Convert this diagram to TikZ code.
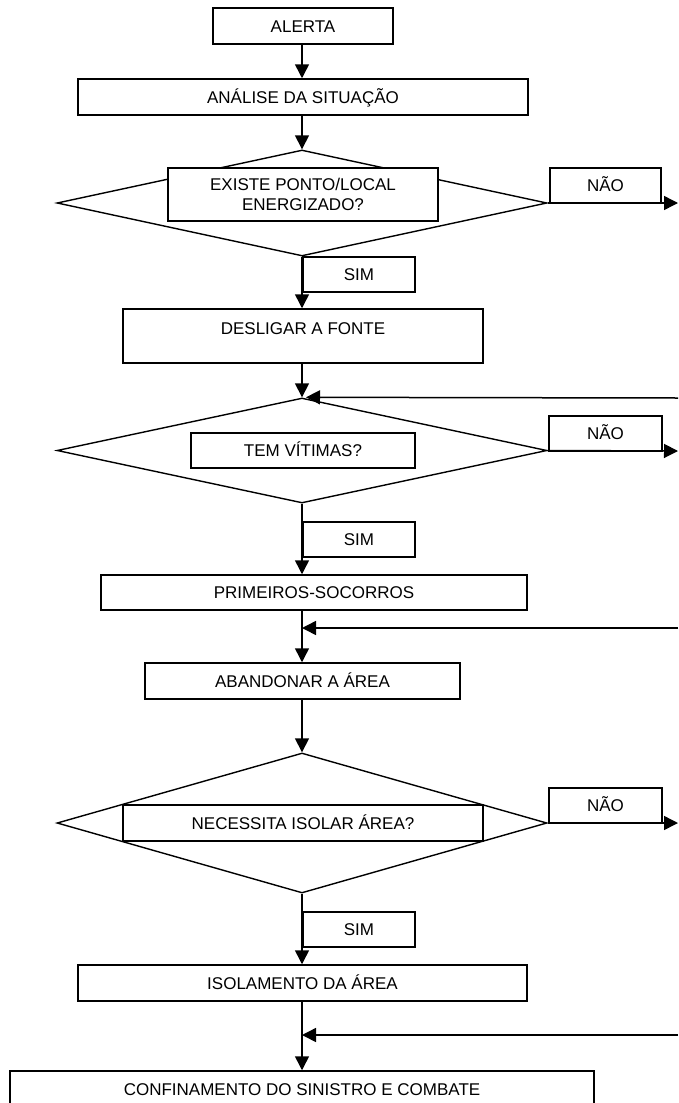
\documentclass[tikz,border=0pt]{standalone}
\usepackage{fontspec}
\setmainfont{Liberation Sans}
\usetikzlibrary{arrows.meta,shapes.geometric}
\begin{document}
\begin{tikzpicture}[x=1pt,y=-1pt,
  every node/.style={font=\fontsize{17}{20}\selectfont},
  frame/.style={draw, line width=1.5pt, rectangle, inner sep=0pt},
  box/.style={frame, text height=12.2pt, text depth=0pt},
  dia/.style={draw, line width=1.4pt, diamond, inner sep=0pt, minimum width=490pt},
  arr/.style={line width=1.5pt, -{Triangle[width=14pt,length=14pt]}}]
\useasboundingbox (0,0) rectangle (678,1103);
\clip (0,0) rectangle (678,1103);
% process boxes
\node[box, minimum width=180pt, minimum height=36pt] (alerta) at (303,26) {ALERTA};
\node[box, minimum width=450pt, minimum height=36pt] (analise) at (303,97) {ANÁLISE DA SITUAÇÃO};
\node[dia, minimum height=106pt] (d1) at (302,203) {};
\node[frame, fill=white, minimum width=270pt, minimum height=53pt, align=center] (d1txt) at (303,194.5) {EXISTE PONTO/LOCAL\\ENERGIZADO?};
\node[box, minimum width=111pt, minimum height=35pt] (nao1) at (605.5,185.5) {NÃO};
\node[box, minimum width=112pt, minimum height=35pt] (sim1) at (359,274.5) {SIM};
\node[box, minimum width=360pt, text height=25pt, text depth=29pt] (desl) at (303,336) {DESLIGAR A FONTE};
\node[dia, minimum height=105pt] (d2) at (302,450.5) {};
\node[box, fill=white, minimum width=224pt, minimum height=35pt] (d2txt) at (303,450.5) {TEM VÍTIMAS?};
\node[box, minimum width=113pt, minimum height=35pt] (nao2) at (605.5,433.5) {NÃO};
\node[box, minimum width=112pt, minimum height=35pt] (sim2) at (359,539.5) {SIM};
\node[box, minimum width=426pt, minimum height=35pt] (prim) at (314,592.5) {PRIMEIROS-SOCORROS};
\node[box, minimum width=315pt, minimum height=36pt] (aband) at (302.5,681) {ABANDONAR A ÁREA};
\node[dia, minimum height=140pt] (d3) at (302,823) {};
\node[box, fill=white, minimum width=360pt, minimum height=36pt] (d3txt) at (303,823) {NECESSITA ISOLAR ÁREA?};
\node[box, minimum width=113pt, minimum height=35pt] (nao3) at (605.5,805.5) {NÃO};
\node[box, minimum width=112pt, minimum height=35pt] (sim3) at (359,929.5) {SIM};
\node[box, minimum width=449pt, minimum height=36pt] (isol) at (302.5,983) {ISOLAMENTO DA ÁREA};
\node[box, minimum width=584pt, text height=24pt, text depth=18pt] (conf) at (302,1092) {CONFINAMENTO DO SINISTRO E COMBATE};
% free ends at the right edge
\coordinate (e1) at (678,203);
\coordinate (e2) at (678,451);
\coordinate (e3) at (678,823);
\coordinate (r1) at (678,398);
\coordinate (r2) at (678,628);
\coordinate (r3) at (678,1035);
% connectors
\draw[arr] (alerta.south -| d1.north) -- (analise.north -| d1.north);
\draw[arr] (analise.south -| d1.north) -- (d1.north);
\draw[arr] (d1.east) -- (e1);
\draw[arr] (d1.south) -- (d1.south |- desl.north);
\draw[arr] (desl.south -| d2.north) -- (d2.north);
\draw[arr] (r1) -- ([xshift=4pt]d2.north);
\draw[arr] (d2.east) -- (e2);
\draw[arr] (d2.south) -- (d2.south |- prim.north);
\draw[arr] (d2.south |- prim.south) -- (d2.south |- aband.north);
\draw[arr] (r2) -- (r2 -| d2.south);
\draw[arr] (d2.south |- aband.south) -- (d3.north);
\draw[arr] (d3.east) -- (e3);
\draw[arr] (d3.south) -- (d3.south |- isol.north);
\draw[arr] (d3.south |- isol.south) -- (d3.south |- conf.north);
\draw[arr] (r3) -- (r3 -| d3.south);
\end{tikzpicture}
\end{document}
